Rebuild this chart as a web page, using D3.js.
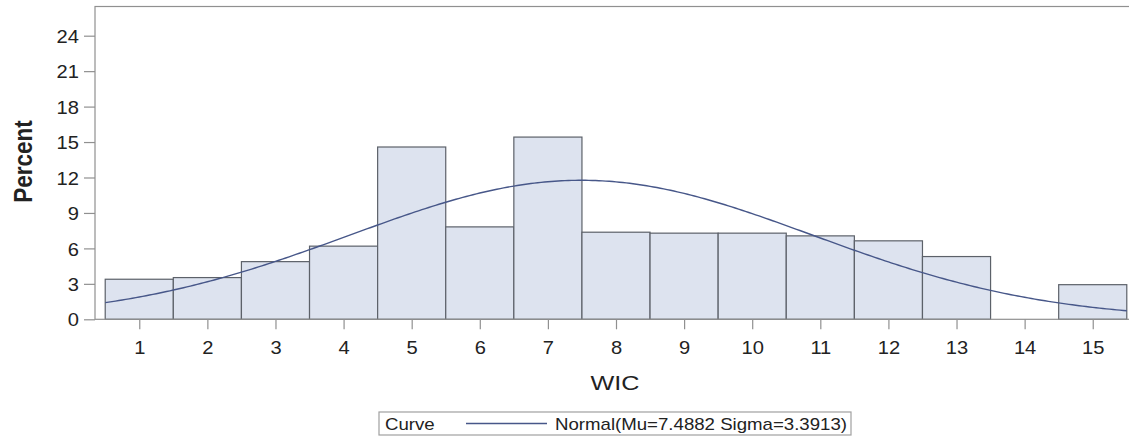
<!DOCTYPE html>
<html>
<head>
<meta charset="utf-8">
<script src="https://cdn.jsdelivr.net/npm/d3@7"></script>
<style>
  html, body { margin: 0; padding: 0; background: #fff; }
  svg { display: block; font-family: "Liberation Sans", Arial, sans-serif; }
</style>
</head>
<body>
<svg id="chart" width="1129" height="440"></svg>
<script>
// ---- data ----
const categories = [1, 2, 3, 4, 5, 6, 7, 8, 9, 10, 11, 12, 13, 14, 15];
const percents = [3.39, 3.53, 4.88, 6.19, 14.58, 7.82, 15.42, 7.37, 7.29, 7.29, 7.06, 6.64, 5.31, 0, 2.93];
const yTickValues = [0, 3, 6, 9, 12, 15, 18, 21, 24];
const xTickValues = [1, 2, 3, 4, 5, 6, 7, 8, 9, 10, 11, 12, 13, 14, 15];
const MU = 7.4882;
const SIGMA = 3.3913;
const BIN_WIDTH = 1;
const xLabel = "WIC";
const yLabel = "Percent";
const legendTitle = "Curve";
const legendText = "Normal(Mu=7.4882 Sigma=3.3913)";

(function () {
// ---- layout ----
const svg = d3.select("#chart");
const pLeft = 95, pTop = 6.5, pBottom = 319.3, pRight = 1137;
const SX = 1.15;  // horizontal text stretch of the reference image
const frameColor = "#909090";
const textColor = "#222";
const barFill = "#dde3ef";
const barStroke = "#5c6169";
const curveColor = "#475789";

const x = d3.scaleLinear().domain([0.35, 15.65]).range([pLeft, pRight]);
const y = d3.scaleLinear().domain([0, 26.47]).range([pBottom, pTop]);

// bars
svg.append("g").selectAll("rect")
  .data(categories.map((c, i) => ({ c, v: percents[i] })).filter(d => d.v > 0))
  .join("rect")
  .attr("x", d => x(d.c - BIN_WIDTH / 2))
  .attr("y", d => y(d.v))
  .attr("width", d => x(d.c + BIN_WIDTH / 2) - x(d.c - BIN_WIDTH / 2))
  .attr("height", d => y(0) - y(d.v))
  .attr("fill", barFill)
  .attr("stroke", barStroke)
  .attr("stroke-width", 1.2);

// normal density curve (scaled to percent per bin)
const pdf = t => 100 * BIN_WIDTH * Math.exp(-0.5 * Math.pow((t - MU) / SIGMA, 2)) / (SIGMA * Math.sqrt(2 * Math.PI));
const xs = d3.range(0.5, 15.5001, 0.05);
svg.append("path")
  .datum(xs)
  .attr("fill", "none")
  .attr("stroke", curveColor)
  .attr("stroke-width", 1.4)
  .attr("d", d3.line().x(t => x(t)).y(t => y(pdf(t))));

// frame
svg.append("rect")
  .attr("x", pLeft).attr("y", pTop)
  .attr("width", pRight - pLeft).attr("height", pBottom - pTop)
  .attr("fill", "none").attr("stroke", frameColor).attr("stroke-width", 1.2);

// y axis
const yAxis = svg.append("g")
  .attr("transform", `translate(${pLeft},0)`)
  .call(d3.axisLeft(y).tickValues(yTickValues).tickSize(11).tickSizeOuter(0));
yAxis.select(".domain").remove();
yAxis.selectAll("line").attr("stroke", frameColor).attr("stroke-width", 1.2);
yAxis.selectAll("text")
  .attr("x", 0).attr("dy", "0.38em")
  .attr("transform", `translate(-16,0) scale(${SX},1)`)
  .attr("fill", textColor)
  .style("font-size", "17.5px")
  .style("font-family", "'Liberation Sans', Arial, sans-serif");

// x axis
const xAxis = svg.append("g")
  .attr("transform", `translate(0,${pBottom})`)
  .call(d3.axisBottom(x).tickValues(xTickValues).tickSize(10).tickSizeOuter(0));
xAxis.select(".domain").remove();
xAxis.selectAll("line").attr("stroke", frameColor).attr("stroke-width", 1.2);
xAxis.selectAll("text")
  .attr("y", 0).attr("dy", null)
  .attr("transform", `translate(0,34.5) scale(${SX},1)`)
  .attr("fill", textColor)
  .style("font-size", "17.5px")
  .style("font-family", "'Liberation Sans', Arial, sans-serif");

// axis labels
svg.append("text")
  .attr("transform", `translate(615,390) scale(1.2,1)`)
  .attr("text-anchor", "middle")
  .attr("fill", textColor)
  .style("font-size", "21px")
  .text(xLabel);

svg.append("text")
  .attr("transform", `translate(31.5,161.5) scale(1.15,1) rotate(-90)`)
  .attr("text-anchor", "middle")
  .attr("fill", textColor)
  .style("font-size", "22.5px")
  .style("font-weight", "bold")
  .text(yLabel);

// legend
const lg = svg.append("g");
lg.append("rect")
  .attr("x", 379).attr("y", 412).attr("width", 472).attr("height", 23)
  .attr("fill", "#fff").attr("stroke", "#a0a0a0").attr("stroke-width", 1.2);
lg.append("text")
  .attr("transform", `translate(385,429.5) scale(1.18,1)`)
  .attr("fill", textColor).style("font-size", "15.8px")
  .text(legendTitle);
lg.append("line")
  .attr("x1", 466).attr("x2", 547).attr("y1", 423.5).attr("y2", 423.5)
  .attr("stroke", curveColor).attr("stroke-width", 1.4);
lg.append("text")
  .attr("transform", `translate(555,429.5) scale(1.18,1)`)
  .attr("fill", textColor).style("font-size", "15.8px")
  .text(legendText);
})();
</script>
</body>
</html>
